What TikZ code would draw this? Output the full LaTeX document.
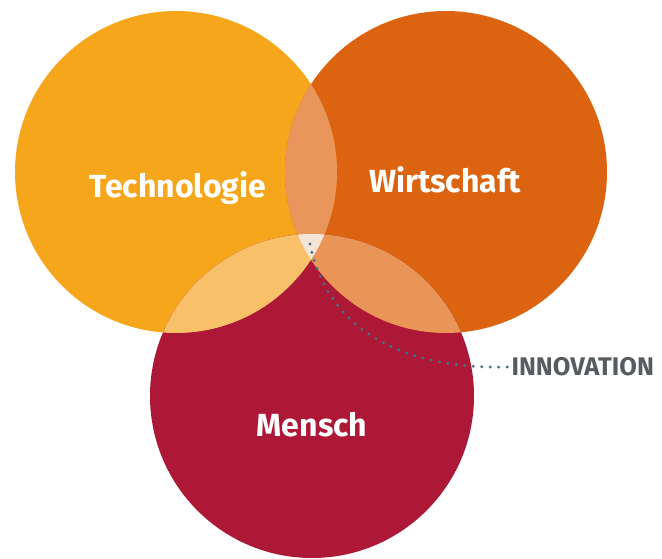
\documentclass[tikz,border=0pt]{standalone}
\usepackage{fontspec}
\setmainfont{Fira Sans}
\usepackage{xcolor}
\usepackage{tikz}
\usetikzlibrary{positioning}

\definecolor{techcol}{HTML}{F5A61B}
\definecolor{wirtcol}{HTML}{DC6410}
\definecolor{menschcol}{HTML}{AD1837}
\definecolor{techwirt}{HTML}{E9965C}
\definecolor{techmensch}{HTML}{F8C169}
\definecolor{wirtmensch}{HTML}{E99558}
\definecolor{allcol}{HTML}{F5E5D8}
\definecolor{dotcol}{HTML}{3D7682}
\definecolor{labelgray}{HTML}{575C60}

\tikzset{
  circlabel/.style={text=white, font=\fontsize{32}{36}\selectfont\bfseries, anchor=base},
  sidelabel/.style={text=labelgray, font=\fontsize{25.5}{30}\selectfont\bfseries, anchor=west},
  dotline/.style={dotcol, line width=3.2pt, line cap=round, dash pattern=on 0pt off 8.5pt}
}

\begin{document}
\begin{tikzpicture}[x=1pt,y=-1pt]
\useasboundingbox (0,0) rectangle (662,559);
% circles
\fill[techcol] (176,172) circle (161);
\fill[wirtcol] (446,172) circle (161);
\fill[menschcol] (312,396) circle (162);
% overlaps
\begin{scope}
\clip (176,172) circle (161);
\fill[techwirt] (446,172) circle (161);
\fill[techmensch] (312,396) circle (162);
\end{scope}
\begin{scope}
\clip (446,172) circle (161);
\fill[wirtmensch] (312,396) circle (162);
\end{scope}
\begin{scope}
\clip (176,172) circle (161);
\clip (446,172) circle (161);
\fill[allcol] (312,396) circle (162);
\end{scope}
% labels
\node[circlabel] (tech) at (178,197) {Technologie};
\node[circlabel] (wirt) at (445,193) {Wirtschaft};
\node[circlabel] (mensch) at (312,436) {Mensch};
\coordinate (kern) at (310,244);
\node[sidelabel] (innov) at (508,367) {INNOVATION};
\draw[dotline] (kern) .. controls (325,320) and (390,370) .. (innov.west);
\end{tikzpicture}
\end{document}
